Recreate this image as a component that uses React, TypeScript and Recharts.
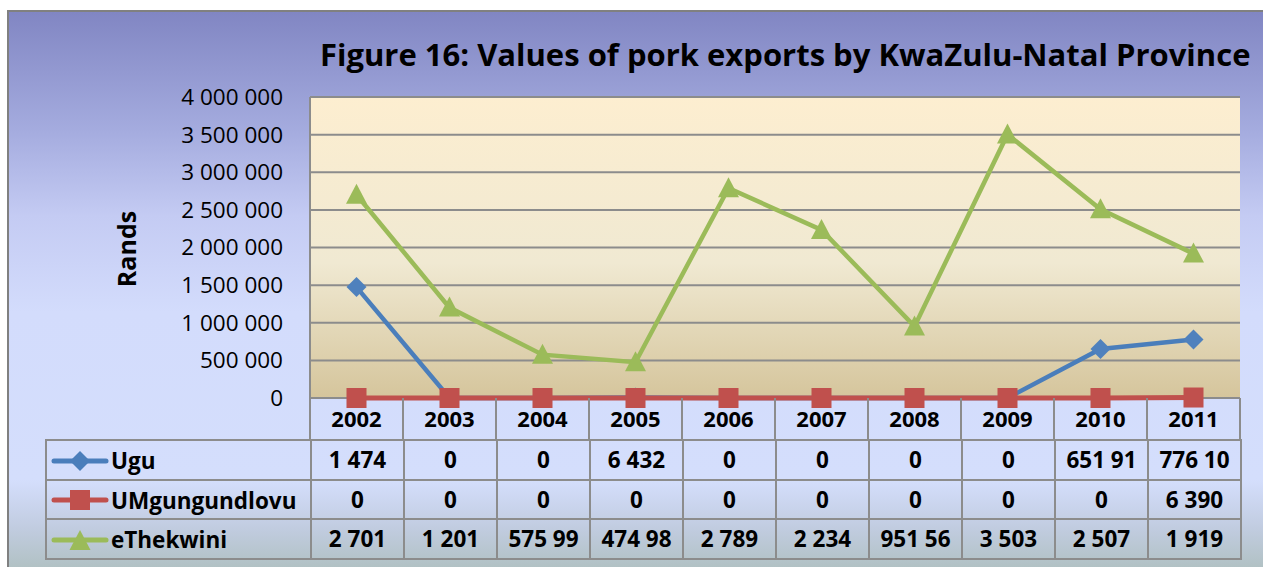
import React from "react";
import { CartesianGrid, Line, LineChart, XAxis, YAxis } from "recharts";

const years = ["2002", "2003", "2004", "2005", "2006", "2007", "2008", "2009", "2010", "2011"];
const ugu = [1474000, 0, 0, 6432, 0, 0, 0, 0, 651910, 776100];
const umgungundlovu = [0, 0, 0, 0, 0, 0, 0, 0, 0, 6390];
const ethekwini = [2701000, 1201000, 575990, 474980, 2789000, 2234000, 951560, 3503000, 2507000, 1919000];

// table text as printed (Excel truncated the wide cells)
const uguText = ["1 474", "0", "0", "6 432", "0", "0", "0", "0", "651 91", "776 10"];
const umgText = ["0", "0", "0", "0", "0", "0", "0", "0", "0", "6 390"];
const ethText = ["2 701", "1 201", "575 99", "474 98", "2 789", "2 234", "951 56", "3 503", "2 507", "1 919"];

const yTicks = [0, 500000, 1000000, 1500000, 2000000, 2500000, 3000000, 3500000, 4000000];

const FONT = "'Open Sans', sans-serif";
const GRID = "#8c8c8c";
const BLUE = "#4a7ebb";
const RED = "#c0504d";
const GREEN = "#9bbb59";

const rows = years.map((year, i) => ({
  year,
  ugu: ugu[i],
  umg: umgungundlovu[i],
  eth: ethekwini[i],
}));

function fmtRand(v: number): string {
  return String(Math.round(v)).replace(/\B(?=(\d{3})+(?!\d))/g, " ");
}

function Diamond({ cx, cy, fill }: any) {
  if (cx == null || cy == null) return null;
  return <path d={`M${cx},${cy - 10}L${cx + 10},${cy}L${cx},${cy + 10}L${cx - 10},${cy}Z`} fill={fill} />;
}

function Square({ cx, cy, fill }: any) {
  if (cx == null || cy == null) return null;
  return <rect x={cx - 10} y={cy - 10} width={20} height={20} fill={fill} />;
}

function Triangle({ cx, cy, fill }: any) {
  if (cx == null || cy == null) return null;
  return <path d={`M${cx},${cy - 11}L${cx + 10.5},${cy + 9}L${cx - 10.5},${cy + 9}Z`} fill={fill} />;
}

const BAND = 93;

// header cell of the data table: sides and bottom only, the top edge is the grid's zero line
function YearTick({ x, y, payload }: any) {
  const l = x - BAND / 2;
  const r = x + BAND / 2;
  return (
    <g>
      <path d={`M${l},${y}V${y + 42}H${r}V${y}`} fill="none" stroke={GRID} strokeWidth={2} />
      <text x={x} y={y + 29} textAnchor="middle" fontFamily={FONT} fontWeight={700} fontSize={22} fill="#000">
        {payload.value}
      </text>
    </g>
  );
}

function LegendKey({ color, shape }: { color: string; shape: string }) {
  return (
    <svg width={58} height={22} style={{ verticalAlign: "middle" }}>
      <line x1={3} y1={11} x2={55} y2={11} stroke={color} strokeWidth={5} strokeLinecap="round" />
      {shape === "diamond" && <Diamond cx={29} cy={11} fill={color} />}
      {shape === "square" && <Square cx={29} cy={11} fill={color} />}
      {shape === "triangle" && <Triangle cx={29} cy={12} fill={color} />}
    </svg>
  );
}

const tableRows = [
  { name: "Ugu", color: BLUE, shape: "diamond", text: uguText },
  { name: "UMgungundlovu", color: RED, shape: "square", text: umgText },
  { name: "eThekwini", color: GREEN, shape: "triangle", text: ethText },
];

export default function App() {
  const cell: React.CSSProperties = {
    border: `2px solid ${GRID}`,
    height: 37.5,
    padding: 0,
    textAlign: "center",
    fontFamily: FONT,
    fontWeight: 700,
    fontSize: 22.5,
    color: "#000",
    whiteSpace: "nowrap",
  };
  return (
    <div style={{ position: "absolute", left: 0, top: 0, width: 1263, height: 567, overflow: "hidden", background: "#fff" }}>
      <div
        style={{
          position: "absolute",
          left: 7,
          top: 10,
          width: 1300,
          height: 600,
          border: "2px solid #808080",
          background:
            "linear-gradient(180deg, #8186c3 0%, #a5acdf 20%, #c4cbf3 34%, #d3dcfc 50%, #d4defc 78%, #c1cce0 86%, #9fb5a4 100%)",
        }}
      />
      <div
        style={{
          position: "absolute",
          left: 320,
          top: 33,
          width: 930,
          textAlign: "center",
          fontFamily: FONT,
          fontWeight: 700,
          fontSize: 31,
          lineHeight: "42px",
          color: "#000",
          whiteSpace: "nowrap",
        }}
      >
        Figure 16: Values of pork exports by KwaZulu-Natal Province
      </div>
      <div
        style={{
          position: "absolute",
          left: 126,
          top: 249,
          transform: "translate(-50%, -50%) rotate(-90deg)",
          fontFamily: FONT,
          fontWeight: 700,
          fontSize: 25,
          color: "#000",
          whiteSpace: "nowrap",
        }}
      >
        Rands
      </div>
      <div style={{ position: "absolute", left: 0, top: 0 }}>
        <LineChart
          width={1263}
          height={567}
          data={rows}
          margin={{ top: 97, right: 23, left: 200, bottom: 127 }}
        >
          <defs>
            <linearGradient id="plotBg" x1="0" y1="0" x2="0" y2="1">
              <stop offset="0%" stopColor="#fdeed0" />
              <stop offset="55%" stopColor="#f0e9d2" />
              <stop offset="100%" stopColor="#d5c59c" />
            </linearGradient>
          </defs>
          <CartesianGrid vertical={false} stroke={GRID} strokeWidth={2} fill="url(#plotBg)" fillOpacity={1} />
          <XAxis
            dataKey="year"
            padding={{ left: BAND / 2, right: BAND / 2 }}
            axisLine={false}
            tickLine={false}
            tickSize={0}
            tickMargin={0}
            height={42}
            interval={0}
            tick={<YearTick />}
          />
          <YAxis
            domain={[0, 4000000]}
            ticks={yTicks}
            tickFormatter={(v) => fmtRand(Number(v))}
            axisLine={{ stroke: GRID, strokeWidth: 2 }}
            tickLine={false}
            tickSize={0}
            tickMargin={27}
            width={110}
            interval={0}
            tick={{ fontFamily: FONT, fontSize: 22.5, fill: "#000" }}
          />
          <Line
            dataKey="ugu"
            name="Ugu"
            stroke={BLUE}
            strokeWidth={4.5}
            dot={<Diamond fill="#4f81bd" />}
            activeDot={false}
            isAnimationActive={false}
          />
          <Line
            dataKey="umg"
            name="UMgungundlovu"
            stroke={RED}
            strokeWidth={5}
            dot={<Square fill={RED} />}
            activeDot={false}
            isAnimationActive={false}
          />
          <Line
            dataKey="eth"
            name="eThekwini"
            stroke={GREEN}
            strokeWidth={4.5}
            dot={<Triangle fill={GREEN} />}
            activeDot={false}
            isAnimationActive={false}
          />
        </LineChart>
      </div>
      <table
        style={{
          position: "absolute",
          left: 45,
          top: 439,
          borderCollapse: "collapse",
          tableLayout: "fixed",
          width: 265 + BAND * 10,
        }}
      >
        <colgroup>
          <col style={{ width: 265 }} />
          {years.map((y) => (
            <col key={y} style={{ width: BAND }} />
          ))}
        </colgroup>
        <tbody>
          {tableRows.map((r) => (
            <tr key={r.name}>
              <td style={{ ...cell, textAlign: "left", paddingLeft: 4 }}>
                <LegendKey color={r.color} shape={r.shape} />
                <span style={{ verticalAlign: "middle", marginLeft: 2 }}>{r.name}</span>
              </td>
              {r.text.map((t, i) => (
                <td key={i} style={cell}>
                  {t}
                </td>
              ))}
            </tr>
          ))}
        </tbody>
      </table>
    </div>
  );
}
